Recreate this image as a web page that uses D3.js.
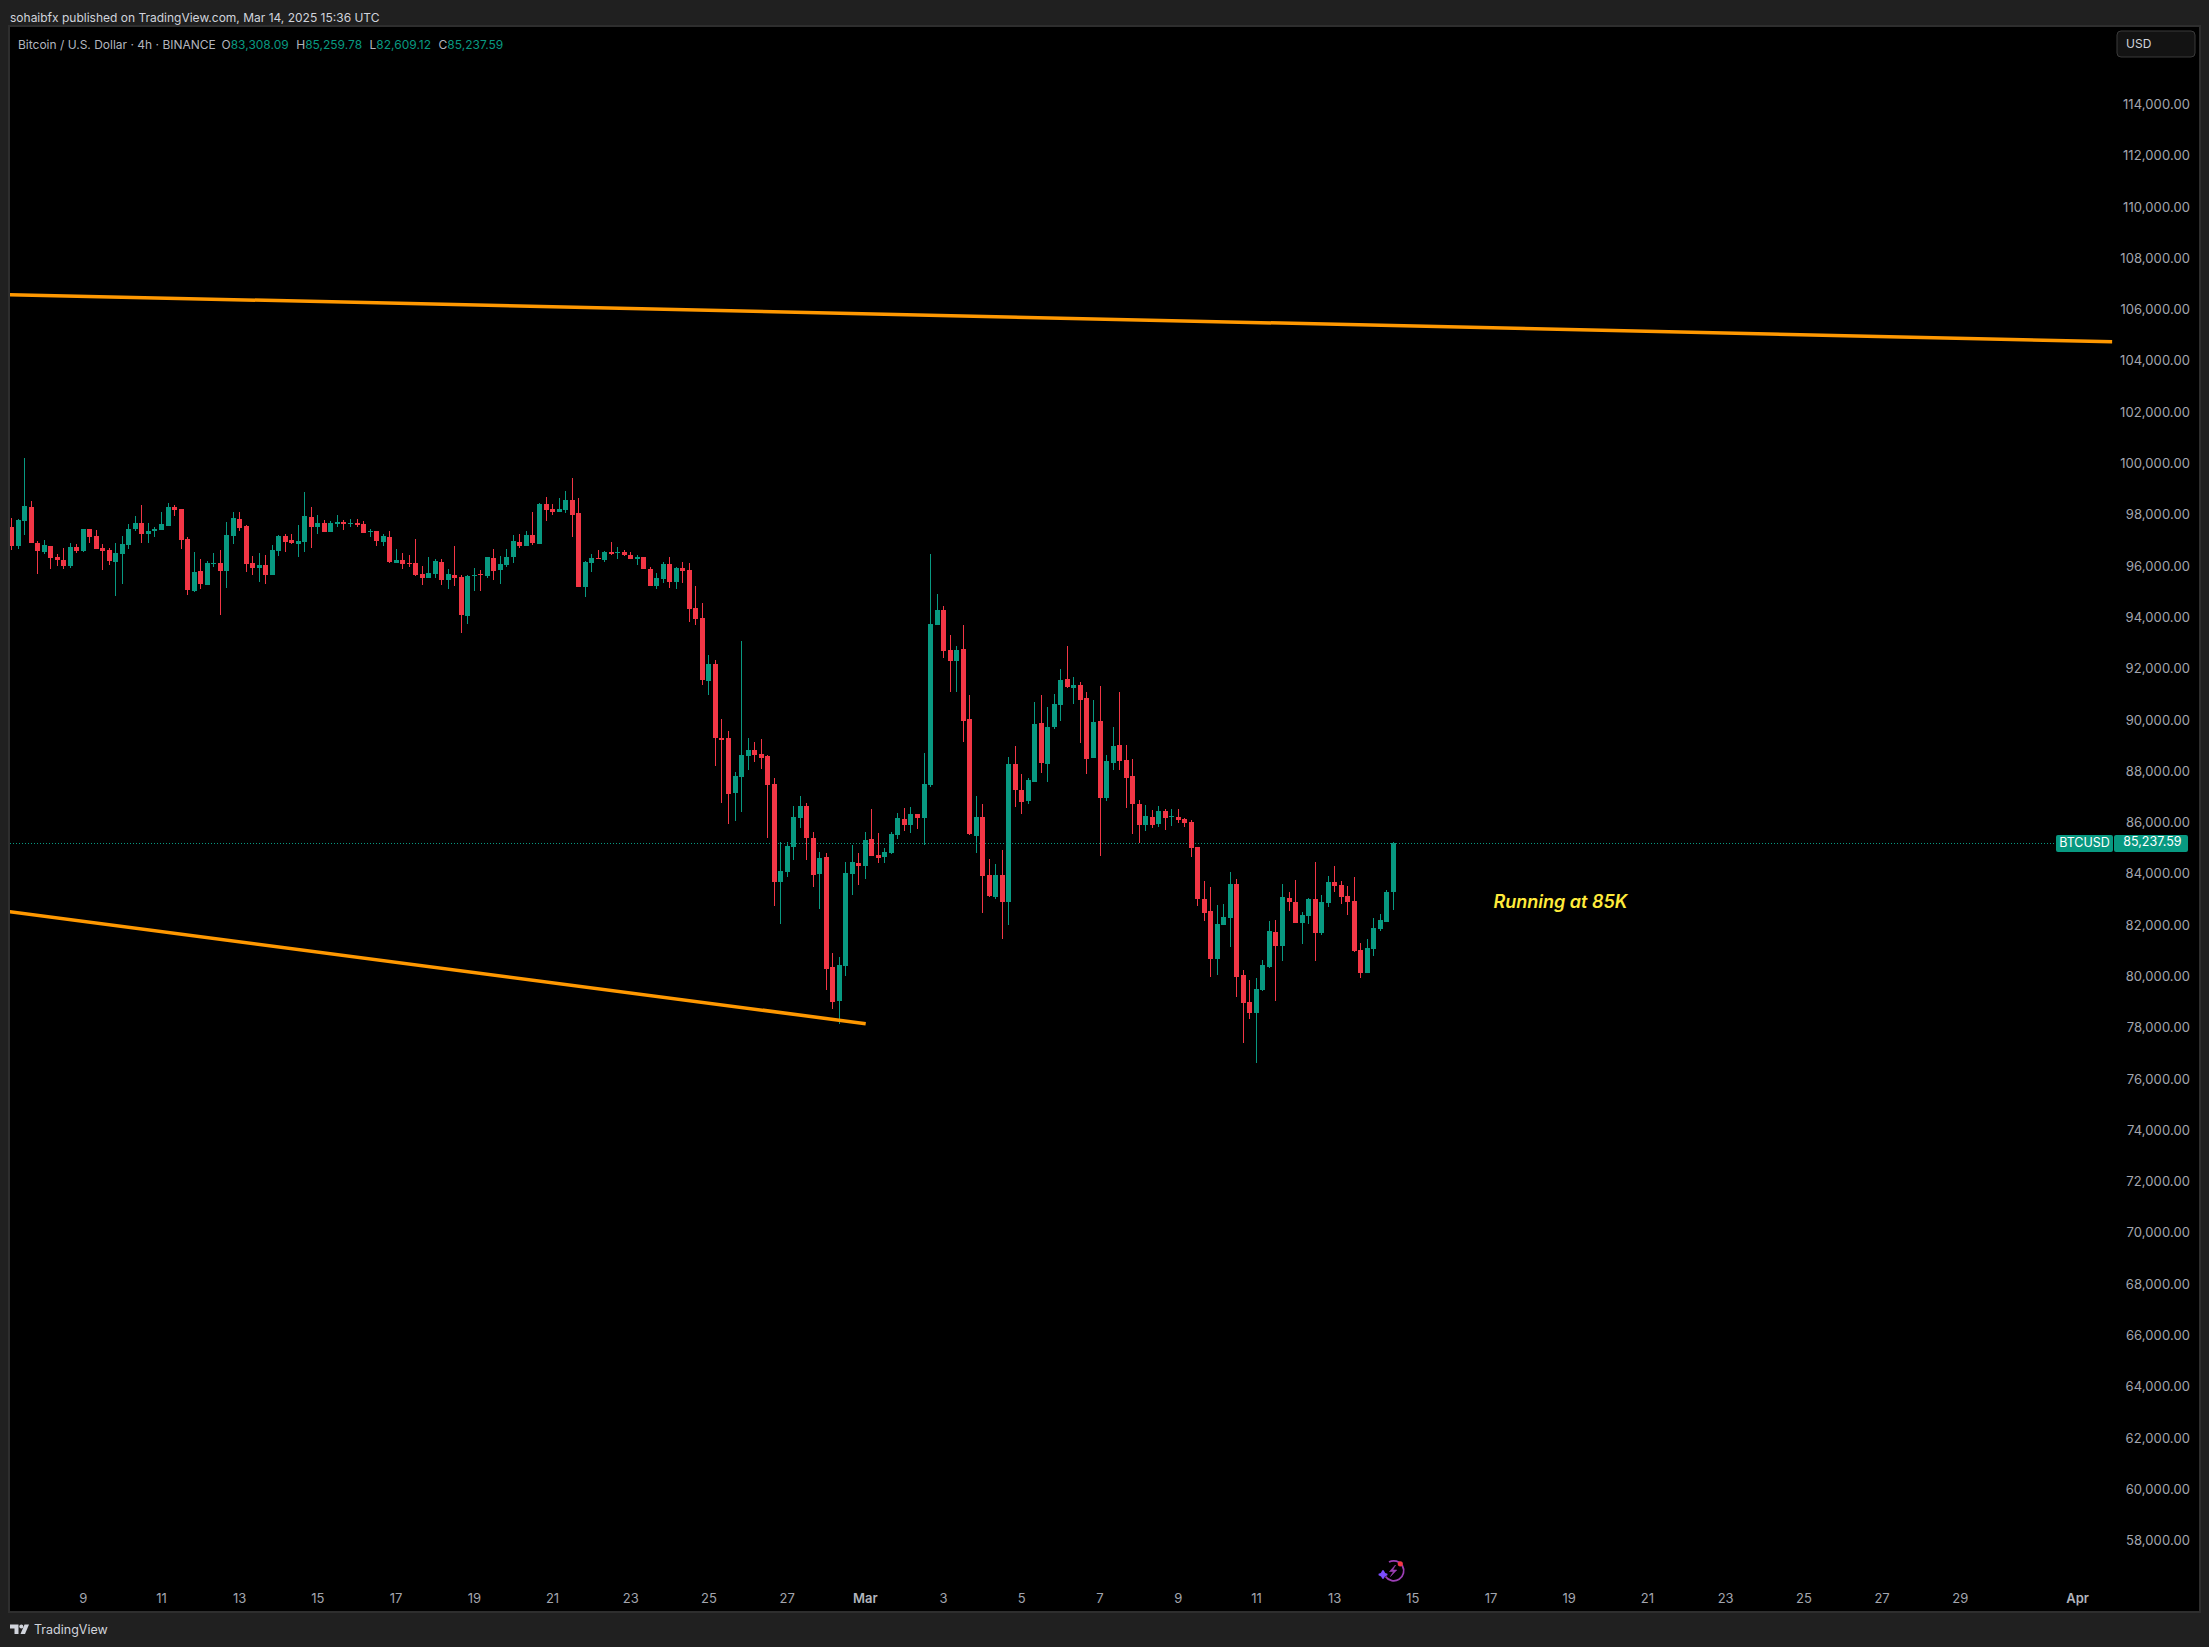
<!DOCTYPE html>
<html>
<head>
<meta charset="utf-8">
<script src="https://cdnjs.cloudflare.com/ajax/libs/d3/7.8.5/d3.min.js"></script>
<style>
html,body{margin:0;padding:0;background:#202020;}
svg{display:block;font-family:Inter,Roboto,"Liberation Sans",sans-serif;}
</style>
</head>
<body>
<svg id="chart" width="2209" height="1647"></svg>
<script>
const opens = [
97557,96816,97791,98337,96933,96582,96816,96387,96270,96036,
96777,96621,97479,97206,96738,96660,96192,96504,96855,97479,
97713,97284,97401,97440,97596,98337,98259,97089,95061,95841,
95295,96114,96153,95841,97206,97869,97596,96153,95958,96075,
95685,96621,97206,97050,96894,96972,97947,97557,97713,97362,
97674,97752,97674,97713,97674,97362,97401,96972,97167,96153,
96270,96153,96153,95724,95568,95724,96192,95490,95685,95607,
94086,95646,95724,95646,96348,95880,96075,96387,96972,96816,
97245,96894,98454,98259,98142,98220,98610,98103,95217,96153,
96348,96270,96582,96543,96582,96465,96309,96387,95919,95256,
95529,96114,95412,95958,95880,94398,94009,91552,92215,89329,
89329,87184,87808,88627,88861,88705,88627,87535,83713,84103,
85078,86209,86677,85429,84025,84688,80398,79072,80437,84025,
84454,84337,85390,84766,84688,84844,85546,86170,85936,86365,
86209,87496,93736,94321,92761,92332,92800,90070,85507,86248,
83986,83128,83986,82933,88315,87301,86872,87613,89914,88315,
89758,90616,91630,91279,91396,90889,88549,89992,86989,88354,
89056,88471,87847,86755,85936,86248,85975,86482,86248,86248,
86170,86053,85080,83052,82584,80712,82038,82311,83637,80088,
79035,78606,79503,80400,81765,81219,83091,82935,82116,82389,
83052,81726,82896,83715,83598,83169,82974,81063,80166,81102,
81882,82155,83308.09];
const closes = [
96816,97830,98376,96933,96621,96855,96348,96270,96036,96777,
96621,97479,97167,96699,96621,96231,96543,96894,97479,97713,
97284,97401,97479,97674,98337,98220,97050,95100,95802,95334,
96153,96153,95841,97245,97908,97518,96114,95958,96075,95685,
96660,97206,96972,96933,97011,97986,97557,97713,97362,97713,
97752,97674,97713,97622,97323,97401,97011,97206,96192,96270,
96114,96114,95685,95568,95763,96231,95490,95724,95568,94125,
95646,95685,95685,96387,95841,96114,96387,97011,96816,97245,
96933,98454,98220,98142,98259,98610,98025,95217,96192,96348,
96309,96582,96504,96582,96465,96309,96387,95919,95256,95568,
96114,95412,95958,95841,94359,93969,91591,92215,89329,89251,
87145,87847,88666,88861,88666,88549,87496,83713,84142,85117,
86248,86677,85429,83986,84649,80320,79033,80476,84064,84493,
84337,85351,84727,84649,84883,85585,86209,85936,86365,86209,
87535,93775,94321,92722,92332,92761,89992,85585,86248,83947,
83167,83986,82933,88315,87301,86833,87691,89875,88354,89758,
90655,91591,91318,91396,90811,88510,89953,86989,88432,89017,
88432,87769,86755,85936,86287,85936,86482,86209,86287,86131,
86014,85039,83052,82506,80712,82077,82350,83637,80010,78996,
78606,79542,80478,81804,81219,83130,82935,82116,82428,83052,
81726,82935,83715,83559,83130,82935,81024,80166,81141,81921,
82233,83325,85237.59];
const highs = [
97895,97869,100248,98571,97011,97050,96816,96504,96738,96933,
96894,97479,97479,97440,96894,96738,96933,97206,97674,97986,
98415,97713,97557,98142,98493,98415,98259,97167,96582,96309,
96231,96543,96660,97752,98142,98142,97635,96426,96543,96465,
96855,97245,97284,97284,97635,98922,98337,98025,97830,97791,
98025,97830,97869,97869,97791,97479,97401,97284,97401,96699,
96543,96465,97089,96036,96387,96309,96309,95919,96816,95685,
95685,95958,95880,96387,96699,96426,96699,97245,97284,97401,
98142,98493,98727,98454,98688,98961,99468,98688,96231,96504,
96660,96621,96972,96777,96660,96582,96465,96387,95997,95763,
96192,96387,95997,96192,96153,95256,94594,92566,92371,90070,
89602,88003,93112,89329,89173,89290,88666,87769,85273,85273,
86677,87067,86794,85663,84883,84844,80944,80788,84493,85156,
84844,85663,86560,85624,85039,85663,86404,86599,86638,86365,
88744,96505,94945,94477,93346,92917,93736,91006,87067,86755,
84610,84415,84961,88588,89017,87925,87769,90733,91006,90538,
91045,92020,92917,91708,91513,91123,90811,91357,88666,89758,
91123,89056,88510,86911,86716,86521,86677,86560,86560,86560,
86209,86131,85080,83754,83520,82818,82857,84105,83832,80283,
79893,79971,80673,82194,82233,83637,83325,83793,82545,83091,
84495,83208,83949,84339,83754,83559,83910,81336,81492,82311,
82467,83403,85259.78];
const lows = [
96660,96699,97245,96933,95724,96504,95919,96036,95919,95958,
96543,96582,96933,96699,95880,96075,94866,95334,96699,97401,
96933,96933,97167,97440,97596,97986,96699,94905,95022,95139,
95295,95997,94125,95178,96894,97401,95802,95685,95412,95334,
95685,96426,96582,96894,96387,96582,96738,97284,97362,97362,
97557,97440,97557,97557,97323,97167,96816,96816,96153,96153,
95919,95997,95646,95295,95568,95568,95295,95139,95256,93423,
93774,95061,95061,95568,95490,95334,95997,96153,96738,96816,
96855,96894,97791,98025,98142,98103,97167,95217,94827,95802,
96309,96192,96465,96309,96426,96309,96075,95919,95256,95139,
95373,95178,95139,95373,93852,93735,91396,91006,88237,86794,
85975,86092,86443,88081,88393,88120,85429,82777,82075,83908,
84571,85819,84571,83518,82660,79501,78760,78175,80047,83206,
83596,83830,84727,84454,84454,84805,85390,85702,85624,85780,
85156,87418,93736,92449,91123,91123,89173,85546,84844,82504,
83128,83050,81490,82036,86638,86365,86755,87613,87964,87613,
89680,89992,91279,90655,89134,87925,88549,84727,86872,88081,
88081,86599,85585,85234,85702,85819,85858,85741,85897,86014,
85858,84688,82779,82194,80010,80088,82038,81180,79230,77436,
78372,76656,79464,80361,79074,80634,82584,82116,81297,82077,
80634,81648,82740,83325,82857,82428,80985,79971,80166,80829,
81804,82155,82609.12];

const firstBar = "2025-02-07T04:00:00Z";
const barHours = 4;
const priceTicks = [114000,112000,110000,108000,106000,104000,102000,100000,98000,96000,94000,92000,90000,88000,86000,84000,82000,80000,78000,76000,74000,72000,70000,68000,66000,64000,62000,60000,58000];
const timeTicks = ["2025-02-09","2025-02-11","2025-02-13","2025-02-15","2025-02-17","2025-02-19","2025-02-21","2025-02-23","2025-02-25","2025-02-27","2025-03-01","2025-03-03","2025-03-05","2025-03-07","2025-03-09","2025-03-11","2025-03-13","2025-03-15","2025-03-17","2025-03-19","2025-03-21","2025-03-23","2025-03-25","2025-03-27","2025-03-29","2025-04-01"];
const timeLabels = ["9","11","13","15","17","19","21","23","25","27","Mar","3","5","7","9","11","13","15","17","19","21","23","25","27","29","Apr"];
const upperDates = ["2025-02-07T02:00:00Z","2025-04-01T21:30:00Z"];
const upperPrices = [106620,104783];
const lowerDates = ["2025-02-07T02:00:00Z","2025-03-01T00:30:00Z"];
const lowerPrices = [82565,78192];
const lastPrice = 85237.59;
const headerText = "sohaibfx published on TradingView.com, Mar 14, 2025 15:36 UTC";
const legendTitle = "Bitcoin / U.S. Dollar · 4h · BINANCE";
const legendKeys = ["O","H","L","C"];
const legendVals = ["83,308.09","85,259.78","82,609.12","85,237.59"];
const noteText = "Running at 85K";
const noteDate = "2025-03-17T01:45:00Z";
const notePrice = 82900;

const UP = "#089981", DOWN = "#F23645", ORANGE = "#FF9800";
const PL = 10, PR = 2199, PT = 27, PB = 1611;
const svg = d3.select("#chart");

// plot frame
svg.append("rect").attr("x",PL-1).attr("y",PT-1).attr("width",PR-PL+2).attr("height",PB-PT+2)
  .attr("fill","#000").attr("stroke","#2e2e2e").attr("stroke-width",2);
svg.append("clipPath").attr("id","plot").append("rect").attr("x",PL).attr("y",PT).attr("width",PR-PL).attr("height",PB-PT);

const t0 = new Date(firstBar);
const barTime = i => new Date(t0.getTime() + i*barHours*3600e3);
const x = d3.scaleUtc()
  .domain([new Date("2025-02-09T00:00:00Z"), new Date("2025-04-01T00:00:00Z")])
  .range([82.8, 2077.1]);
const y = d3.scaleLinear().domain([55293,117053]).range([PB,PT]);

const bars = opens.map((o,i)=>({t:barTime(i),o,h:highs[i],l:lows[i],c:closes[i]}));

const g = svg.append("g").attr("clip-path","url(#plot)");

// price line
g.append("line").attr("x1",PL).attr("x2",2056).attr("y1",Math.round(y(lastPrice))+0.5).attr("y2",Math.round(y(lastPrice))+0.5)
  .attr("stroke",UP).attr("stroke-width",1).attr("stroke-dasharray","1 2");

// candles
const col = d=>Math.round(x(d.t));
const candle = g.append("g").attr("shape-rendering","crispEdges").selectAll("g").data(bars).join("g")
  .attr("fill",d=>d.c>=d.o?UP:DOWN);
candle.append("rect").attr("x",col).attr("width",1)
  .attr("y",d=>Math.round(y(d.h))).attr("height",d=>Math.max(1,Math.round(y(d.l))-Math.round(y(d.h))));
candle.append("rect").attr("x",d=>col(d)-2).attr("width",5)
  .attr("y",d=>Math.round(y(Math.max(d.o,d.c))))
  .attr("height",d=>Math.max(1,Math.round(y(Math.min(d.o,d.c)))-Math.round(y(Math.max(d.o,d.c)))));

// trend lines
const trend = d3.line().x(d=>x(new Date(d[0]))).y(d=>y(d[1]));
[[upperDates,upperPrices],[lowerDates,lowerPrices]].forEach(([ds,ps])=>{
  g.append("path").attr("d",trend(ds.map((d,i)=>[d,ps[i]])))
   .attr("fill","none").attr("stroke",ORANGE).attr("stroke-width",3.5);
});

// note
g.append("text").attr("x",x(new Date(noteDate))).attr("y",y(notePrice))
  .attr("fill","#FFEB3B").attr("font-size",18).attr("font-style","italic").attr("font-weight",600)
  .attr("dominant-baseline","middle").text(noteText);

// price axis
const yAxis = svg.append("g").attr("transform","translate(2190,-1)")
  .call(d3.axisRight(y).tickValues(priceTicks).tickSize(0).tickFormat(d3.format(",.2f")));
yAxis.select(".domain").remove();
yAxis.selectAll("text").attr("x",0).attr("text-anchor","end").attr("fill","#a3a6af").attr("font-size",13).attr("font-family","Inter,Roboto,sans-serif").style("letter-spacing","0.1px");

// time axis
const xAxis = svg.append("g").attr("transform","translate(0,1598)")
  .call(d3.axisBottom(x).tickValues(timeTicks.map(d=>new Date(d+"T00:00:00Z"))).tickSize(0).tickFormat((d,i)=>timeLabels[i]));
xAxis.select(".domain").remove();
xAxis.selectAll("text").attr("y",0).attr("dy","0.36em").attr("fill",(d,i)=>/[A-Z]/.test(timeLabels[i])?"#b2b5be":"#a3a6af")
  .attr("font-weight",(d,i)=>/[A-Z]/.test(timeLabels[i])?600:400)
  .attr("font-size",13).attr("font-family","Inter,Roboto,sans-serif");

// header
svg.append("text").attr("x",10).attr("y",21.5).attr("fill","#d1d4dc").attr("font-size",12).text(headerText);

// legend
const leg = svg.append("text").attr("x",18).attr("y",48.5).attr("font-size",12).attr("fill","#b2b5be");
leg.append("tspan").text(legendTitle);
legendKeys.forEach((k,i)=>{
  leg.append("tspan").attr("dx",i===0?5.7:7.5).text(k);
  leg.append("tspan").attr("fill",UP).text(legendVals[i]);
});

// currency button
svg.append("rect").attr("x",2117).attr("y",31).attr("width",78).attr("height",26).attr("rx",4)
  .attr("fill","#131313").attr("stroke","#3a3a3a").attr("stroke-width",1);
svg.append("text").attr("x",2126).attr("y",44.5).attr("dominant-baseline","middle").attr("fill","#d1d4dc").attr("font-size",12).text("USD");

// last price label
const ly = Math.round(y(lastPrice));
svg.append("rect").attr("x",2056).attr("y",ly-8).attr("width",57).attr("height",17).attr("rx",2).attr("fill",UP);
svg.append("rect").attr("x",2114).attr("y",ly-8).attr("width",74).attr("height",17).attr("rx",2).attr("fill",UP);
svg.append("text").attr("x",2084.5).attr("y",ly+1).attr("text-anchor","middle").attr("dominant-baseline","middle").attr("fill","#fff").attr("font-size",12.5).text("BTCUSD");
svg.append("text").attr("x",2181.5).attr("y",ly).attr("text-anchor","end").attr("dominant-baseline","middle").attr("fill","#fff").attr("font-size",12.5).text(d3.format(",.2f")(lastPrice));

// footer logo and name
const logo = svg.append("g").attr("fill","#d1d4dc");
logo.append("path").attr("d","M10 1624.5h8.5v9.5h-4v-5.5h-4.5z");
logo.append("circle").attr("cx",21.3).attr("cy",1626.5).attr("r",2);
logo.append("path").attr("d","M24.5 1624.5h4.5l-4 9.5h-4.5z");
svg.append("text").attr("x",34).attr("y",1634).attr("fill","#d1d4dc").attr("font-size",12.5).text("TradingView");

// lightning icon
const icon = svg.append("g").attr("transform","translate(1393,1571)");
icon.append("path").attr("d","M-7.5 5.5A10 10 0 1 0 -4 -9").attr("fill","none").attr("stroke","#9c3fb5").attr("stroke-width",1.8);
icon.append("path").attr("d","M2.5 -6L-3.5 0.5H0.5L-2.5 5.5L3.8 -1H-0.2z").attr("fill","#9c3fb5").attr("stroke","#9c3fb5").attr("stroke-width",0.6);
icon.append("circle").attr("cx",7.3).attr("cy",-7.2).attr("r",2.6).attr("fill","#F23645");
icon.append("path").attr("d","M-10 -0.5Q-9.3 2.8 -5.7 3.5Q-9.3 4.2 -10 7.5Q-10.7 4.2 -14.3 3.5Q-10.7 2.8 -10 -0.5z").attr("fill","#7c4dff").attr("stroke","#7c4dff").attr("stroke-width",1.4);
</script>
</body>
</html>
